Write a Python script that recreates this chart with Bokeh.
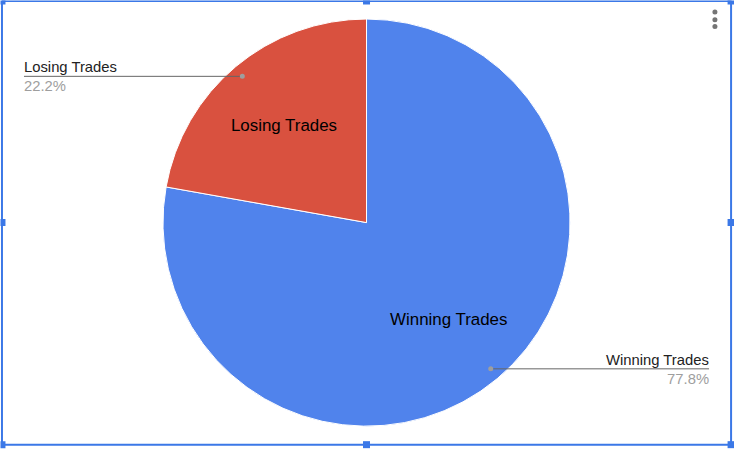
import math
from bokeh.plotting import figure
from bokeh.models import Range1d, ColumnDataSource
from bokeh.core.properties import value
from bokeh.embed import file_html
from bokeh.resources import INLINE

# ---- data ----
categories = ["Winning Trades", "Losing Trades"]
values = [77.8, 22.2]
colors = ["#5083ec", "#d9513f"]

# ---- layout (reference frame is 750 x 465, y measured upward) ----
W, H = 734, 449
RW, RH = 750, 465
S = W / RW
CX, CY, R = 374, RH - 230, 208
FONT = value("Liberation Sans")

def fs(px):
    return f"{px * S:.1f}px"

p = figure(width=W, height=H, output_backend="svg", toolbar_location=None,
           x_range=Range1d(0, RW), y_range=Range1d(0, RH),
           min_border=0, background_fill_color="white")
p.axis.visible = False
p.grid.visible = False
p.outline_line_color = None

total = sum(values)
starts, ends, mids = [], [], []
a = math.pi / 2
for v in values:
    b = a - v / total * 2 * math.pi
    starts.append(b)
    ends.append(a)
    mids.append((a + b) / 2)
    a = b

src = ColumnDataSource(dict(cat=categories, val=values, color=colors,
                            start=starts, end=ends))
p.wedge(x=CX, y=CY, radius=R, start_angle="start", end_angle="end",
        direction="anticlock", fill_color="color", line_color="white",
        line_width=1, source=src)

# inner labels
ix = [CX + 0.63 * R * math.cos(m) for m in mids]
iy = [CY + 0.63 * R * math.sin(m) for m in mids]
p.text(x=ix, y=iy, text=categories, text_font=FONT, text_font_size=fs(17.3),
       text_color="#000000", text_align="center", text_baseline="middle")

# outer leader labels
for cat, v, m in zip(categories, values, mids):
    dx = CX + 0.95 * R * math.cos(m)
    dy = CY + 0.95 * R * math.sin(m)
    right = math.cos(m) > 0
    ex = 724 if right else 24
    p.line([dx, ex], [dy, dy], line_color="#666666", line_width=1)
    p.scatter([dx], [dy], size=5, fill_color="#9e9e9e", line_color=None)
    align = "right" if right else "left"
    p.text(x=[ex], y=[dy + 1], text=[cat], text_font=FONT, text_font_size=fs(15.1),
           text_color="#222222", text_align=align, text_baseline="bottom")
    p.text(x=[ex], y=[dy - 2], text=[f"{v:.1f}%"], text_font=FONT,
           text_font_size=fs(15.1), text_color="#9e9e9e", text_align=align,
           text_baseline="top")

# menu dots
p.scatter([730, 730, 730], [RH - 12, RH - 20, RH - 27], size=5,
          fill_color="#757575", line_color=None)

# selection frame
BL, BR, BT, BB = 1.5, 746.5, RH - 0.5, RH - 460
BLUE = "#3b78e7"
p.line([BL, BR, BR, BL, BL], [BT, BT, BB, BB, BT], line_color=BLUE, line_width=2)
hx = [BL, 374, BR, BL, BR, BL, 374, BR]
hy = [BT, BT, BT, CY, CY, BB, BB, BB]
p.scatter(hx, hy, marker="square", size=7, fill_color=BLUE, line_color=None)

open("out.html", "w").write(file_html(p, INLINE))
